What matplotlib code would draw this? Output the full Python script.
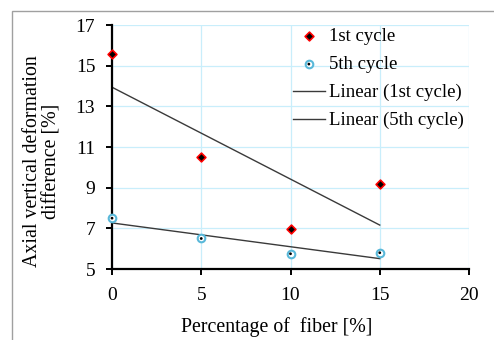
import numpy as np
import matplotlib.pyplot as plt
from matplotlib.patches import Rectangle
from matplotlib.legend_handler import HandlerTuple

plt.rcParams['font.family'] = ['Liberation Serif', 'DejaVu Serif']

# fiber content and measured deformation difference
fiber = [0, 5, 10, 15]
cycle1 = [15.55, 10.5, 6.95, 9.2]
cycle5 = [7.5, 6.5, 5.75, 5.8]

x_ticks = [0, 5, 10, 15, 20]
y_ticks = [5, 7, 9, 11, 13, 15, 17]

fig = plt.figure(figsize=(4.94, 3.40), dpi=100)
ax = fig.add_axes([112/494, 1 - 269/340, (469 - 112)/494, (269 - 25)/340])

# outer chart frame
fig.patches.append(Rectangle((12/494, -0.1), 1.0, (1 - 11/340) + 0.1,
                             transform=fig.transFigure, fill=False,
                             edgecolor='#a0a0a0', linewidth=1.0))

ax.grid(True, color='#c9eefb', linewidth=0.9)
ax.set_axisbelow(True)
for s in ['top', 'right']:
    ax.spines[s].set_visible(False)
for s in ['left', 'bottom']:
    ax.spines[s].set_linewidth(1.6)
    ax.spines[s].set_color('black')

# linear trend lines
xf = np.array([fiber[0], fiber[-1]])
p1 = np.polyfit(fiber, cycle1, 1)
p5 = np.polyfit(fiber, cycle5, 1)
l1, = ax.plot(xf, np.polyval(p1, xf), color='#3a3a3a', lw=1.0, zorder=2)
l5, = ax.plot(xf, np.polyval(p5, xf), color='#3a3a3a', lw=1.0, zorder=2)

m1 = ax.scatter(fiber, cycle1, marker='D', s=20, facecolor='black',
                edgecolor='red', linewidth=1.2, zorder=4, clip_on=False)
m5 = ax.scatter(fiber, cycle5, marker='o', s=30, facecolor='white',
                edgecolor='#59b8d9', linewidth=1.5, zorder=4, clip_on=False)
d5 = ax.scatter(fiber, cycle5, marker='o', s=4, facecolor='black',
                edgecolor='none', zorder=5, clip_on=False)

ax.set_xlim(0, 20)
ax.set_ylim(5, 17)
ax.set_xticks(x_ticks)
ax.set_yticks(y_ticks)
ax.tick_params(axis='both', direction='out', length=4, width=1.4,
               labelsize=14, colors='black')
ax.tick_params(axis='x', pad=9)
ax.tick_params(axis='y', pad=8)

ax.legend([m1, (m5, d5), l1, l5],
          ['1st cycle', '5th cycle', 'Linear (1st cycle)', 'Linear (5th cycle)'],
          loc='upper left', bbox_to_anchor=(0.47, 1.042), frameon=False,
          fontsize=13.5, handlelength=1.7, handletextpad=0.2,
          labelspacing=0.58, borderpad=0.2,
          handler_map={tuple: HandlerTuple(ndivide=1)})

fig.text(42/494, 1 - 161/340, 'Axial vertical deformation\ndifference [%]',
         rotation=90, ha='center', va='center', fontsize=14.3, linespacing=1.05)
fig.text(277/494, 1 - 327/340, 'Percentage of  fiber [%]',
         ha='center', va='center', fontsize=14.3)

fig.savefig('out.png', dpi=100)
